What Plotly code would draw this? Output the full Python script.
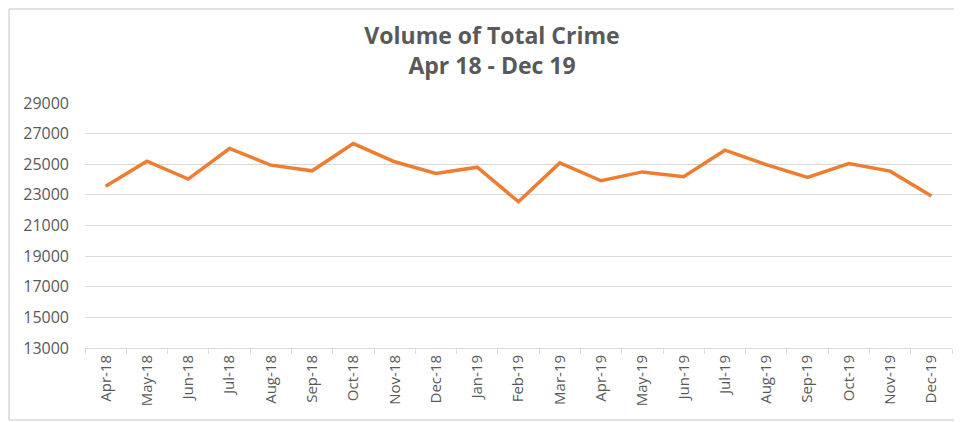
import plotly.graph_objects as go

months = ["Apr-18", "May-18", "Jun-18", "Jul-18", "Aug-18", "Sep-18", "Oct-18",
          "Nov-18", "Dec-18", "Jan-19", "Feb-19", "Mar-19", "Apr-19", "May-19",
          "Jun-19", "Jul-19", "Aug-19", "Sep-19", "Oct-19", "Nov-19", "Dec-19"]
volume = [23570, 25200, 24030, 26030, 24940, 24570, 26350,
          25160, 24400, 24810, 22550, 25090, 23920, 24500,
          24180, 25920, 24980, 24140, 25050, 24550, 22920]
y_ticks = [13000, 15000, 17000, 19000, 21000, 23000, 25000, 27000, 29000]

FONT = "Open Sans"
GREY = "#595959"
FRAME = "#D9D9D9"

# page offset of the figure (default body margin) and plot-area page box
OFF = 8
PL, PR, PT, PB = 85, 952, 103, 348


def px(x):
    return (x - PL) / (PR - PL)


def py(y):
    return (PB - y) / (PB - PT)


def seg(x0, y0, x1, y1):
    return dict(type="line", xref="paper", yref="paper",
                x0=px(x0), y0=py(y0), x1=px(x1), y1=py(y1),
                line=dict(color=FRAME, width=1.5), layer="below")


fig = go.Figure()
fig.add_trace(go.Scatter(
    x=months, y=volume, mode="lines",
    line=dict(color="#ED7D31", width=3.5),
    hoverinfo="x+y",
))

fig.update_layout(
    width=962 - OFF, height=422 - OFF,
    margin=dict(l=PL - OFF, r=962 - PR, t=PT - OFF, b=422 - PB),
    paper_bgcolor="white", plot_bgcolor="white",
    showlegend=False,
    title=dict(
        text="<b>Volume of Total Crime</b><br><b>Apr 18 - Dec 19</b>",
        x=(492 - OFF) / (962 - OFF), xanchor="center", y=0.913, yanchor="top",
        font=dict(family=FONT, size=23, color=GREY),
    ),
    xaxis=dict(
        type="category",
        tickangle=-90,
        tickfont=dict(family=FONT, size=15, color=GREY),
        showgrid=False, automargin=False,
        showline=True, linecolor=FRAME, linewidth=1,
        ticks="outside", tickson="boundaries", ticklen=5, tickcolor=FRAME,
        range=[-0.5, len(months) - 0.5],
    ),
    yaxis=dict(
        range=[13000, 29000], automargin=False,
        tickvals=y_ticks,
        ticktext=[str(v) for v in y_ticks],
        tickfont=dict(family=FONT, size=16, color=GREY),
        showgrid=True, gridcolor=FRAME, gridwidth=1,
        zeroline=False, showline=False, ticks="",
        ticklabelstandoff=15,
    ),
    shapes=[
        seg(9, 9, 962, 9),
        seg(9, 9, 9, 420),
        seg(9, 420, 962, 420),
    ],
)

fig.write_html("out.html")
